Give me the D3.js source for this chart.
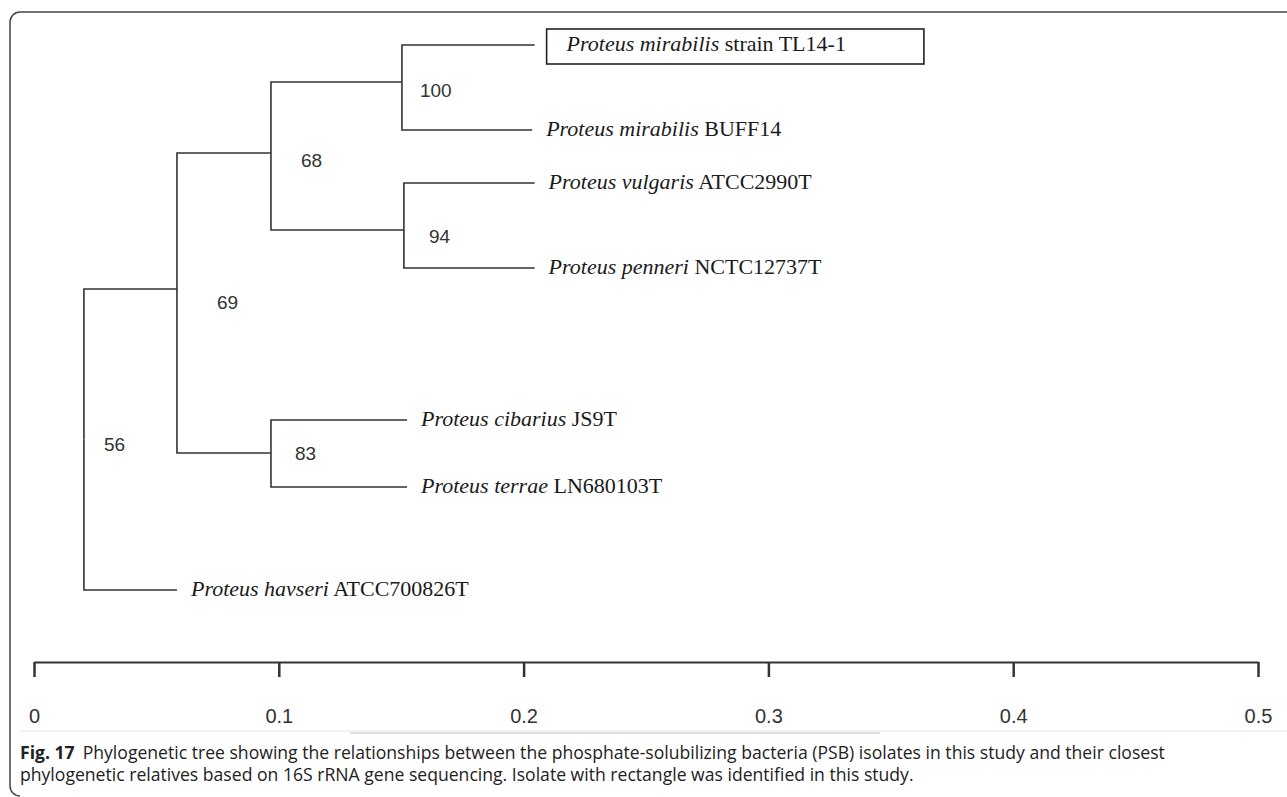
<!DOCTYPE html>
<html>
<head>
<meta charset="utf-8">
<script src="https://cdn.jsdelivr.net/npm/d3@7"></script>
<style>
  body { margin: 0; background: #fff; }
  svg { display: block; }
</style>
</head>
<body>
<div id="tree"></div>
<script>
// tree nodes: internal nodes first, then the leaves
const ids = ['root', 'n69', 'n68', 'n100', 'n94', 'n83',
  'TL14-1', 'BUFF14', 'ATCC2990T', 'NCTC12737T', 'JS9T', 'LN680103T', 'ATCC700826T']
const parentIds = ['', 'root', 'n69', 'n68', 'n68', 'n69',
  'n100', 'n100', 'n94', 'n94', 'n83', 'n83', 'root']
// distance from the left of the scale
const distances = [0.0204, 0.0584, 0.0968, 0.1503, 0.1511, 0.0968,
  0.2045, 0.2035, 0.2045, 0.2045, 0.1524, 0.1524, 0.0584]
// vertical order (row units)
const rows = [4.34, 2.686, 1.189, 0.407, 2.037, 4.492,
  0, 0.936, 1.519, 2.455, 4.128, 4.866, 6]
const bootstrap = [56, 69, 68, 100, 94, 83, null, null, null, null, null, null, null]
const genus = [null, null, null, null, null, null,
  'Proteus mirabilis', 'Proteus mirabilis', 'Proteus vulgaris', 'Proteus penneri',
  'Proteus cibarius', 'Proteus terrae', 'Proteus havseri']
const strainLabels = [null, null, null, null, null, null,
  'strain TL14-1', 'BUFF14', 'ATCC2990T', 'NCTC12737T', 'JS9T', 'LN680103T', 'ATCC700826T']
const highlighted = 'TL14-1'

const scaleTicks = [0, 0.1, 0.2, 0.3, 0.4, 0.5]

const captionBold = 'Fig. 17'
const captionLines = [
  'Phylogenetic tree showing the relationships between the phosphate-solubilizing bacteria (PSB) isolates in this study and their closest',
  'phylogenetic relatives based on 16S rRNA gene sequencing. Isolate with rectangle was identified in this study.'
]

const width = 1287
const height = 797
const ink = '#333'

const svg = d3
  .select('#tree')
  .append('svg')
  .attr('width', width)
  .attr('height', height)

// frame (top and left edges with rounded corners)
svg
  .append('path')
  .attr('d', 'M1287,12 H20 A10,10 0 0 0 10,22 V786 A10,10 0 0 0 20,796')
  .attr('fill', 'none')
  .attr('stroke', '#444')
  .attr('stroke-width', 1.5)

const xPositionScale = d3.scaleLinear().domain([0, 0.5]).range([34, 1258])
const yPositionScale = d3.scaleLinear().domain([0, 6]).range([45, 590])

const table = ids.map((id, i) => ({
  id: id,
  parent: parentIds[i],
  dist: distances[i],
  row: rows[i],
  boot: bootstrap[i],
  genus: genus[i],
  strain: strainLabels[i]
}))

const root = d3
  .stratify()
  .id(d => d.id)
  .parentId(d => d.parent || null)(table)

root.each(n => {
  n.x = xPositionScale(n.data.dist)
  n.y = yPositionScale(n.data.row)
})

// branches: vertical at the parent, then across to the child
svg
  .append('g')
  .selectAll('path')
  .data(root.links())
  .enter()
  .append('path')
  .attr('d', d => `M${d.source.x},${d.source.y} V${d.target.y} H${d.target.x}`)
  .attr('fill', 'none')
  .attr('stroke', ink)
  .attr('stroke-width', 1.6)

// bootstrap values
const bootOffset = {
  root: [20, 7],
  n69: [40, 15],
  n68: [30, 9],
  n100: [18, 10],
  n94: [25, 8],
  n83: [24, 2]
}

svg
  .append('g')
  .selectAll('text')
  .data(root.descendants().filter(n => n.data.boot != null))
  .enter()
  .append('text')
  .attr('x', d => d.x + bootOffset[d.id][0])
  .attr('y', d => d.y + bootOffset[d.id][1])
  .attr('dominant-baseline', 'middle')
  .attr('font-family', 'Liberation Sans, Arial, sans-serif')
  .attr('font-size', 19)
  .attr('fill', ink)
  .text(d => d.data.boot)

// leaf labels
const leafLabels = svg
  .append('g')
  .selectAll('text')
  .data(root.leaves())
  .enter()
  .append('text')
  .attr('x', d => d.x + (d.id === highlighted ? 32 : 14))
  .attr('y', d => d.y + 6)
  .attr('font-family', 'Liberation Serif, Times New Roman, serif')
  .attr('font-size', 22)
  .attr('fill', '#1a1a1a')

leafLabels
  .append('tspan')
  .attr('font-style', 'italic')
  .text(d => d.data.genus)

leafLabels.append('tspan').text(d => ' ' + d.data.strain)

// rectangle around the isolate from this study
leafLabels
  .filter(d => d.id === highlighted)
  .each(function(d) {
    const b = this.getBBox()
    svg
      .append('rect')
      .attr('x', b.x - 19)
      .attr('y', d.y - 16)
      .attr('width', b.width + 19 + 78)
      .attr('height', 35)
      .attr('fill', 'none')
      .attr('stroke', '#222')
      .attr('stroke-width', 1.6)
  })

// distance scale
const xAxis = d3
  .axisBottom(xPositionScale)
  .tickValues(scaleTicks)
  .tickSize(15)
  .tickSizeOuter(0)
  .tickPadding(32)
  .tickFormat(d3.format('.1~f'))

const axis = svg
  .append('g')
  .attr('class', 'axis x-axis')
  .attr('transform', 'translate(0,662)')
  .call(xAxis)

axis.select('.domain').attr('stroke', ink).attr('stroke-width', 2)
axis
  .selectAll('.tick line')
  .attr('stroke', ink)
  .attr('stroke-width', 2.5)
axis
  .selectAll('.tick text')
  .attr('font-family', 'Liberation Sans, Arial, sans-serif')
  .attr('font-size', 20)
  .attr('fill', ink)

// faint scan lines under the scale
svg
  .append('line')
  .attr('x1', 20)
  .attr('x2', width)
  .attr('y1', 731)
  .attr('y2', 731)
  .attr('stroke', '#f2f2f2')
  .attr('stroke-width', 2)
svg
  .append('line')
  .attr('x1', 350)
  .attr('x2', 880)
  .attr('y1', 733)
  .attr('y2', 733)
  .attr('stroke', '#d4d4d4')
  .attr('stroke-width', 1.5)

// caption
const caption = svg
  .append('g')
  .attr('font-family', 'Open Sans, Noto Sans, sans-serif')
  .attr('font-size', 17.6)
  .attr('fill', '#222')

const first = caption.append('text').attr('x', 20).attr('y', 759)
first
  .append('tspan')
  .attr('font-weight', 'bold')
  .text(captionBold)
first.append('tspan').attr('dx', 8).text(captionLines[0])

caption
  .append('text')
  .attr('x', 20)
  .attr('y', 781)
  .text(captionLines[1])
</script>
</body>
</html>
